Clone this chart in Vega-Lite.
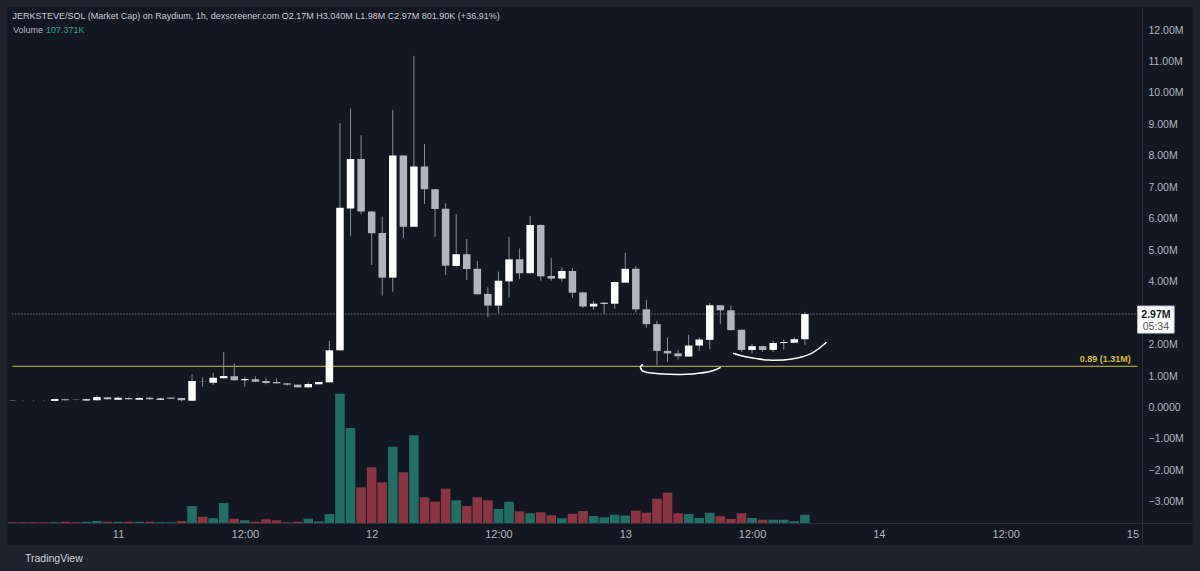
{
  "$schema": "https://vega.github.io/schema/vega-lite/v6.json",
  "width": 1185,
  "height": 538,
  "autosize": "none",
  "padding": {"left": 7.5, "top": 7, "right": 7.5, "bottom": 26},
  "background": "#1e222d",
  "config": {
    "view": {"fill": "#131722", "stroke": null},
    "font": "Liberation Sans",
    "axis": {"grid": false, "labelOverlap": false, "labelBound": false, "labelFlush": false}
  },
  "title": {
    "text": "JERKSTEVE/SOL (Market Cap) on Raydium, 1h, dexscreener.com  O2.17M  H3.040M  L1.98M  C2.97M  801.90K (+36.91%)",
    "anchor": "start",
    "frame": "group",
    "offset": -14,
    "dx": 5,
    "fontSize": 9,
    "fontWeight": "normal",
    "font": "Liberation Sans",
    "color": "#c8cbd2"
  },
  "datasets": {
    "candles": [
      {"h": -10, "open": 0.225, "high": 0.235, "low": 0.205, "close": 0.215, "vol": 9},
      {"h": -9, "open": 0.216, "high": 0.222, "low": 0.205, "close": 0.211, "vol": 9},
      {"h": -8, "open": 0.216, "high": 0.222, "low": 0.205, "close": 0.212, "vol": 9},
      {"h": -7, "open": 0.216, "high": 0.222, "low": 0.205, "close": 0.211, "vol": 9},
      {"h": -6, "open": 0.207, "high": 0.28, "low": 0.2, "close": 0.27, "vol": 9},
      {"h": -5, "open": 0.26, "high": 0.28, "low": 0.22, "close": 0.23, "vol": 17},
      {"h": -4, "open": 0.245, "high": 0.255, "low": 0.23, "close": 0.235, "vol": 9},
      {"h": -3, "open": 0.22, "high": 0.28, "low": 0.21, "close": 0.26, "vol": 17},
      {"h": -2, "open": 0.23, "high": 0.387, "low": 0.22, "close": 0.334, "vol": 26},
      {"h": -1, "open": 0.323, "high": 0.33, "low": 0.25, "close": 0.26, "vol": 17},
      {"h": 0, "open": 0.25, "high": 0.344, "low": 0.245, "close": 0.313, "vol": 17},
      {"h": 1, "open": 0.302, "high": 0.32, "low": 0.25, "close": 0.26, "vol": 17},
      {"h": 2, "open": 0.25, "high": 0.334, "low": 0.245, "close": 0.302, "vol": 17},
      {"h": 3, "open": 0.313, "high": 0.33, "low": 0.25, "close": 0.26, "vol": 17},
      {"h": 4, "open": 0.25, "high": 0.3, "low": 0.245, "close": 0.29, "vol": 9},
      {"h": 5, "open": 0.29, "high": 0.325, "low": 0.285, "close": 0.31, "vol": 9},
      {"h": 6, "open": 0.302, "high": 0.31, "low": 0.196, "close": 0.228, "vol": 26},
      {"h": 7, "open": 0.217, "high": 1.065, "low": 0.21, "close": 0.843, "vol": 220},
      {"h": 8, "open": 0.83, "high": 0.959, "low": 0.662, "close": 0.815, "vol": 82},
      {"h": 9, "open": 0.79, "high": 1.107, "low": 0.715, "close": 0.948, "vol": 61},
      {"h": 10, "open": 0.928, "high": 1.765, "low": 0.92, "close": 1.0, "vol": 259},
      {"h": 11, "open": 0.99, "high": 1.4, "low": 0.85, "close": 0.864, "vol": 56},
      {"h": 12, "open": 0.864, "high": 0.98, "low": 0.662, "close": 0.906, "vol": 35},
      {"h": 13, "open": 0.896, "high": 0.99, "low": 0.81, "close": 0.821, "vol": 17},
      {"h": 14, "open": 0.843, "high": 0.948, "low": 0.737, "close": 0.779, "vol": 48},
      {"h": 15, "open": 0.811, "high": 0.928, "low": 0.76, "close": 0.769, "vol": 35},
      {"h": 16, "open": 0.769, "high": 0.78, "low": 0.694, "close": 0.726, "vol": 9},
      {"h": 17, "open": 0.726, "high": 0.73, "low": 0.63, "close": 0.641, "vol": 17},
      {"h": 18, "open": 0.641, "high": 0.8, "low": 0.62, "close": 0.747, "vol": 56},
      {"h": 19, "open": 0.737, "high": 0.82, "low": 0.73, "close": 0.811, "vol": 22},
      {"h": 20, "open": 0.8, "high": 2.114, "low": 0.79, "close": 1.818, "vol": 116},
      {"h": 21, "open": 1.82, "high": 9.04, "low": 1.8, "close": 6.35, "vol": 1673},
      {"h": 22, "open": 6.33, "high": 9.51, "low": 5.46, "close": 7.9, "vol": 1229},
      {"h": 23, "open": 7.9, "high": 8.66, "low": 6.14, "close": 6.23, "vol": 462},
      {"h": 24, "open": 6.23, "high": 6.25, "low": 4.53, "close": 5.54, "vol": 721},
      {"h": 25, "open": 5.55, "high": 6.07, "low": 3.56, "close": 4.13, "vol": 527},
      {"h": 26, "open": 4.13, "high": 9.46, "low": 3.68, "close": 8.01, "vol": 987},
      {"h": 27, "open": 8.01, "high": 8.03, "low": 5.38, "close": 5.75, "vol": 656},
      {"h": 28, "open": 5.75, "high": 11.18, "low": 5.74, "close": 7.66, "vol": 1135},
      {"h": 29, "open": 7.66, "high": 8.38, "low": 6.47, "close": 6.94, "vol": 333},
      {"h": 30, "open": 6.94, "high": 6.95, "low": 5.43, "close": 6.31, "vol": 276},
      {"h": 31, "open": 6.32, "high": 6.49, "low": 4.21, "close": 4.51, "vol": 444},
      {"h": 32, "open": 4.5, "high": 6.15, "low": 4.49, "close": 4.87, "vol": 294},
      {"h": 33, "open": 4.87, "high": 5.36, "low": 4.06, "close": 4.4, "vol": 220},
      {"h": 34, "open": 4.41, "high": 4.66, "low": 3.59, "close": 3.6, "vol": 333},
      {"h": 35, "open": 3.61, "high": 3.82, "low": 2.87, "close": 3.24, "vol": 294},
      {"h": 36, "open": 3.24, "high": 4.32, "low": 3.01, "close": 4.03, "vol": 181},
      {"h": 37, "open": 4.01, "high": 5.43, "low": 3.49, "close": 4.71, "vol": 276},
      {"h": 38, "open": 4.71, "high": 5.06, "low": 4.08, "close": 4.27, "vol": 151},
      {"h": 39, "open": 4.27, "high": 6.09, "low": 4.26, "close": 5.8, "vol": 126},
      {"h": 40, "open": 5.8, "high": 5.82, "low": 4.03, "close": 4.17, "vol": 138},
      {"h": 41, "open": 4.18, "high": 4.75, "low": 4.03, "close": 4.1, "vol": 100},
      {"h": 42, "open": 4.1, "high": 4.46, "low": 4.0, "close": 4.34, "vol": 61},
      {"h": 43, "open": 4.34, "high": 4.43, "low": 3.49, "close": 3.65, "vol": 120},
      {"h": 44, "open": 3.66, "high": 3.67, "low": 3.17, "close": 3.21, "vol": 155},
      {"h": 45, "open": 3.21, "high": 3.39, "low": 3.1, "close": 3.3, "vol": 91},
      {"h": 46, "open": 3.3, "high": 3.34, "low": 2.97, "close": 3.33, "vol": 74},
      {"h": 47, "open": 3.3, "high": 4.0, "low": 3.14, "close": 3.99, "vol": 107},
      {"h": 48, "open": 3.97, "high": 4.92, "low": 3.96, "close": 4.41, "vol": 97},
      {"h": 49, "open": 4.41, "high": 4.5, "low": 3.02, "close": 3.12, "vol": 159},
      {"h": 50, "open": 3.12, "high": 3.42, "low": 2.54, "close": 2.65, "vol": 133},
      {"h": 51, "open": 2.65, "high": 2.75, "low": 1.35, "close": 1.8, "vol": 314},
      {"h": 52, "open": 1.8, "high": 2.23, "low": 1.46, "close": 1.72, "vol": 392},
      {"h": 53, "open": 1.72, "high": 1.83, "low": 1.53, "close": 1.63, "vol": 126},
      {"h": 54, "open": 1.62, "high": 2.31, "low": 1.61, "close": 1.97, "vol": 116},
      {"h": 55, "open": 1.97, "high": 2.23, "low": 1.81, "close": 2.16, "vol": 65},
      {"h": 56, "open": 2.15, "high": 3.33, "low": 1.85, "close": 3.25, "vol": 133},
      {"h": 57, "open": 3.25, "high": 3.26, "low": 2.65, "close": 3.09, "vol": 87},
      {"h": 58, "open": 3.09, "high": 3.23, "low": 2.45, "close": 2.46, "vol": 52},
      {"h": 59, "open": 2.47, "high": 2.48, "low": 1.77, "close": 1.83, "vol": 126},
      {"h": 60, "open": 1.83, "high": 2.02, "low": 1.72, "close": 1.95, "vol": 65},
      {"h": 61, "open": 1.95, "high": 1.96, "low": 1.77, "close": 1.83, "vol": 43},
      {"h": 62, "open": 1.83, "high": 2.12, "low": 1.77, "close": 2.05, "vol": 43},
      {"h": 63, "open": 2.05, "high": 2.17, "low": 1.85, "close": 2.08, "vol": 43},
      {"h": 64, "open": 2.06, "high": 2.23, "low": 2.05, "close": 2.17, "vol": 22},
      {"h": 65, "open": 2.17, "high": 3.04, "low": 1.98, "close": 2.97, "vol": 107.371}
    ],
    "levels": [{"level": 1.31, "label": "0.89 (1.31M)"}],
    "arcs": [
      {"arc": 1, "k": 0, "h": 49.68, "v": 1.374},
      {"arc": 1, "k": 1, "h": 49.43, "v": 1.278},
      {"arc": 1, "k": 2, "h": 49.83, "v": 1.138},
      {"arc": 1, "k": 3, "h": 51.55, "v": 1.065},
      {"arc": 1, "k": 4, "h": 53.75, "v": 1.056},
      {"arc": 1, "k": 5, "h": 55.93, "v": 1.138},
      {"arc": 1, "k": 6, "h": 57.03, "v": 1.278},
      {"arc": 2, "k": 0, "h": 58.19, "v": 1.723},
      {"arc": 2, "k": 1, "h": 59.38, "v": 1.615},
      {"arc": 2, "k": 2, "h": 61.57, "v": 1.51},
      {"arc": 2, "k": 3, "h": 63.75, "v": 1.542},
      {"arc": 2, "k": 4, "h": 65.63, "v": 1.723},
      {"arc": 2, "k": 5, "h": 67.04, "v": 2.073}
    ]
  },
  "resolve": {"scale": {"y": "independent"}, "axis": {"y": "independent"}},
  "layer": [
    {
      "data": {"name": "candles"},
      "mark": {"type": "bar", "width": 9.6, "clip": true},
      "encoding": {
        "x": {
          "field": "h", "type": "quantitative", "title": "TradingView",
          "scale": {"domain": [-9.99, 101.21], "nice": false, "zero": false},
          "axis": {
            "orient": "bottom", "offset": -22, "tickCount": 100,
            "values": [0, 12, 24, 36, 48, 60, 72, 84, 96],
            "labelExpr": "datum.value % 24 == 0 ? toString(11 + datum.value / 24) : '12:00'",
            "labelColor": "#b2b5be", "labelFontSize": 11, "labelPadding": 5,
            "labelFlush": false, "labelOverlap": false,
            "ticks": false, "domain": true, "domainColor": "#2a2e39",
            "title": "TradingView", "titleX": 17, "titleY": 35,
            "titleAlign": "left", "titleBaseline": "middle", "titleAnchor": null,
            "titleColor": "#d1d4dc", "titleFontSize": 10.5, "titleFontWeight": "normal",
            "titleFont": "Liberation Sans"
          }
        },
        "y": {
          "field": "vol", "type": "quantitative",
          "scale": {"domain": [-284.7, 6677], "nice": false, "zero": false},
          "axis": {
            "orient": "left", "labels": false, "ticks": false, "domain": false,
            "title": "107.371K", "titleAngle": 0, "titleX": 38, "titleY": 22,
            "titleAlign": "left", "titleBaseline": "middle", "titleAnchor": null,
            "titleColor": "#22ab94", "titleFontSize": 9, "titleFontWeight": "normal",
            "titleFont": "Liberation Sans"
          }
        },
        "y2": {"datum": 0},
        "color": {
          "condition": {"test": "datum.close >= datum.open", "value": "#206e64"},
          "value": "#8a3543"
        }
      }
    },
    {
      "layer": [
        {
          "data": {"name": "levels"},
          "mark": {"type": "rule", "color": "#d4bf2e", "strokeWidth": 1, "clip": true},
          "encoding": {
            "y": {
              "field": "level", "type": "quantitative", "title": "Volume",
              "scale": {"domain": [-4.372, 12.734], "nice": false, "zero": false},
              "axis": {
                "orient": "right", "offset": -50.5, "tickCount": 100,
                "values": [-3, -2, -1, 0, 1, 2, 3, 4, 5, 6, 7, 8, 9, 10, 11, 12],
                "labelExpr": "datum.value == 0 ? '0.0000' : (datum.value == 3 ? '' : format(datum.value, '.2f') + 'M')",
                "labelColor": "#b2b5be", "labelFontSize": 10.5, "labelPadding": 6,
                "labelAlign": "left", "labelBaseline": "middle",
                "labelFlush": false, "labelOverlap": false, "labelBound": false,
                "ticks": false, "domain": true, "domainColor": "#2a2e39",
                "title": "Volume", "titleAngle": 0, "titleX": -1129.4, "titleY": 22,
                "titleAlign": "left", "titleBaseline": "middle", "titleAnchor": null,
                "titleColor": "#b2b5be", "titleFontSize": 9, "titleFontWeight": "normal",
                "titleFont": "Liberation Sans"
              }
            },
            "x": {"datum": -10, "type": "quantitative", "scale": {"domain": [-9.99, 101.21], "nice": false, "zero": false}},
            "x2": {"datum": 96.47}
          }
        },
        {
          "data": {"name": "levels"},
          "mark": {"type": "text", "color": "#d4bf2e", "align": "right", "baseline": "bottom", "dy": -2, "fontSize": 9, "fontWeight": "bold", "font": "Liberation Sans"},
          "encoding": {
            "text": {"field": "label"},
            "y": {"field": "level", "type": "quantitative", "scale": {"domain": [-4.372, 12.734], "nice": false, "zero": false}},
            "x": {"datum": 95.85, "type": "quantitative", "scale": {"domain": [-9.99, 101.21], "nice": false, "zero": false}}
          }
        },
        {
          "data": {"name": "candles"},
          "transform": [{"filter": "datum.h == 65"}],
          "mark": {"type": "rule", "color": "#a3a6af", "strokeWidth": 1, "strokeDash": [1, 2], "clip": true},
          "encoding": {
            "y": {"field": "close", "type": "quantitative", "scale": {"domain": [-4.372, 12.734], "nice": false, "zero": false}},
            "x": {"datum": -10, "type": "quantitative", "scale": {"domain": [-9.99, 101.21], "nice": false, "zero": false}},
            "x2": {"datum": 96.47}
          }
        },
        {
          "data": {"name": "candles"},
          "mark": {"type": "rule", "color": "#8b8e98", "strokeWidth": 1, "clip": true},
          "encoding": {
            "x": {"field": "h", "type": "quantitative", "scale": {"domain": [-9.99, 101.21], "nice": false, "zero": false}},
            "y": {"field": "low", "type": "quantitative", "scale": {"domain": [-4.372, 12.734], "nice": false, "zero": false}},
            "y2": {"field": "high"}
          }
        },
        {
          "data": {"name": "candles"},
          "mark": {"type": "bar", "width": 7.5, "minBandSize": 1.5, "clip": true},
          "encoding": {
            "x": {"field": "h", "type": "quantitative", "scale": {"domain": [-9.99, 101.21], "nice": false, "zero": false}},
            "y": {"field": "open", "type": "quantitative", "scale": {"domain": [-4.372, 12.734], "nice": false, "zero": false}},
            "y2": {"field": "close"},
            "color": {
              "condition": {"test": "datum.close >= datum.open", "value": "#ffffff"},
              "value": "#b2b5be"
            }
          }
        },
        {
          "data": {"name": "arcs"},
          "mark": {"type": "line", "color": "#ffffff", "strokeWidth": 1.5, "interpolate": "cardinal"},
          "encoding": {
            "x": {"field": "h", "type": "quantitative", "scale": {"domain": [-9.99, 101.21], "nice": false, "zero": false}},
            "y": {"field": "v", "type": "quantitative", "scale": {"domain": [-4.372, 12.734], "nice": false, "zero": false}},
            "detail": {"field": "arc"},
            "order": {"field": "k"}
          }
        },
        {
          "data": {"name": "candles"},
          "transform": [{"filter": "datum.h == 65"}],
          "mark": {"type": "rect", "fill": "#ffffff", "stroke": "#d1d4dc", "strokeWidth": 1, "yOffset": -8, "y2Offset": 19},
          "encoding": {
            "y": {"field": "close", "type": "quantitative", "scale": {"domain": [-4.372, 12.734], "nice": false, "zero": false}},
            "y2": {"field": "close"},
            "x": {"datum": 96.5, "type": "quantitative", "scale": {"domain": [-9.99, 101.21], "nice": false, "zero": false}},
            "x2": {"datum": 99.94}
          }
        },
        {
          "data": {"name": "candles"},
          "transform": [{"filter": "datum.h == 65"}, {"calculate": "format(datum.close, '.2f') + 'M'", "as": "lbl"}],
          "mark": {"type": "text", "color": "#131722", "fontSize": 10.5, "fontWeight": "bold", "baseline": "middle", "align": "center", "dy": 1, "font": "Liberation Sans"},
          "encoding": {
            "text": {"field": "lbl"},
            "y": {"field": "close", "type": "quantitative", "scale": {"domain": [-4.372, 12.734], "nice": false, "zero": false}},
            "x": {"datum": 98.22, "type": "quantitative", "scale": {"domain": [-9.99, 101.21], "nice": false, "zero": false}}
          }
        },
        {
          "data": {"name": "candles"},
          "transform": [{"filter": "datum.h == 65"}],
          "mark": {"type": "text", "color": "#50535e", "fontSize": 10.5, "baseline": "middle", "align": "center", "dy": 13, "font": "Liberation Sans", "text": "05:34"},
          "encoding": {
            "y": {"field": "close", "type": "quantitative", "scale": {"domain": [-4.372, 12.734], "nice": false, "zero": false}},
            "x": {"datum": 98.22, "type": "quantitative", "scale": {"domain": [-9.99, 101.21], "nice": false, "zero": false}}
          }
        }
      ]
    }
  ]
}
